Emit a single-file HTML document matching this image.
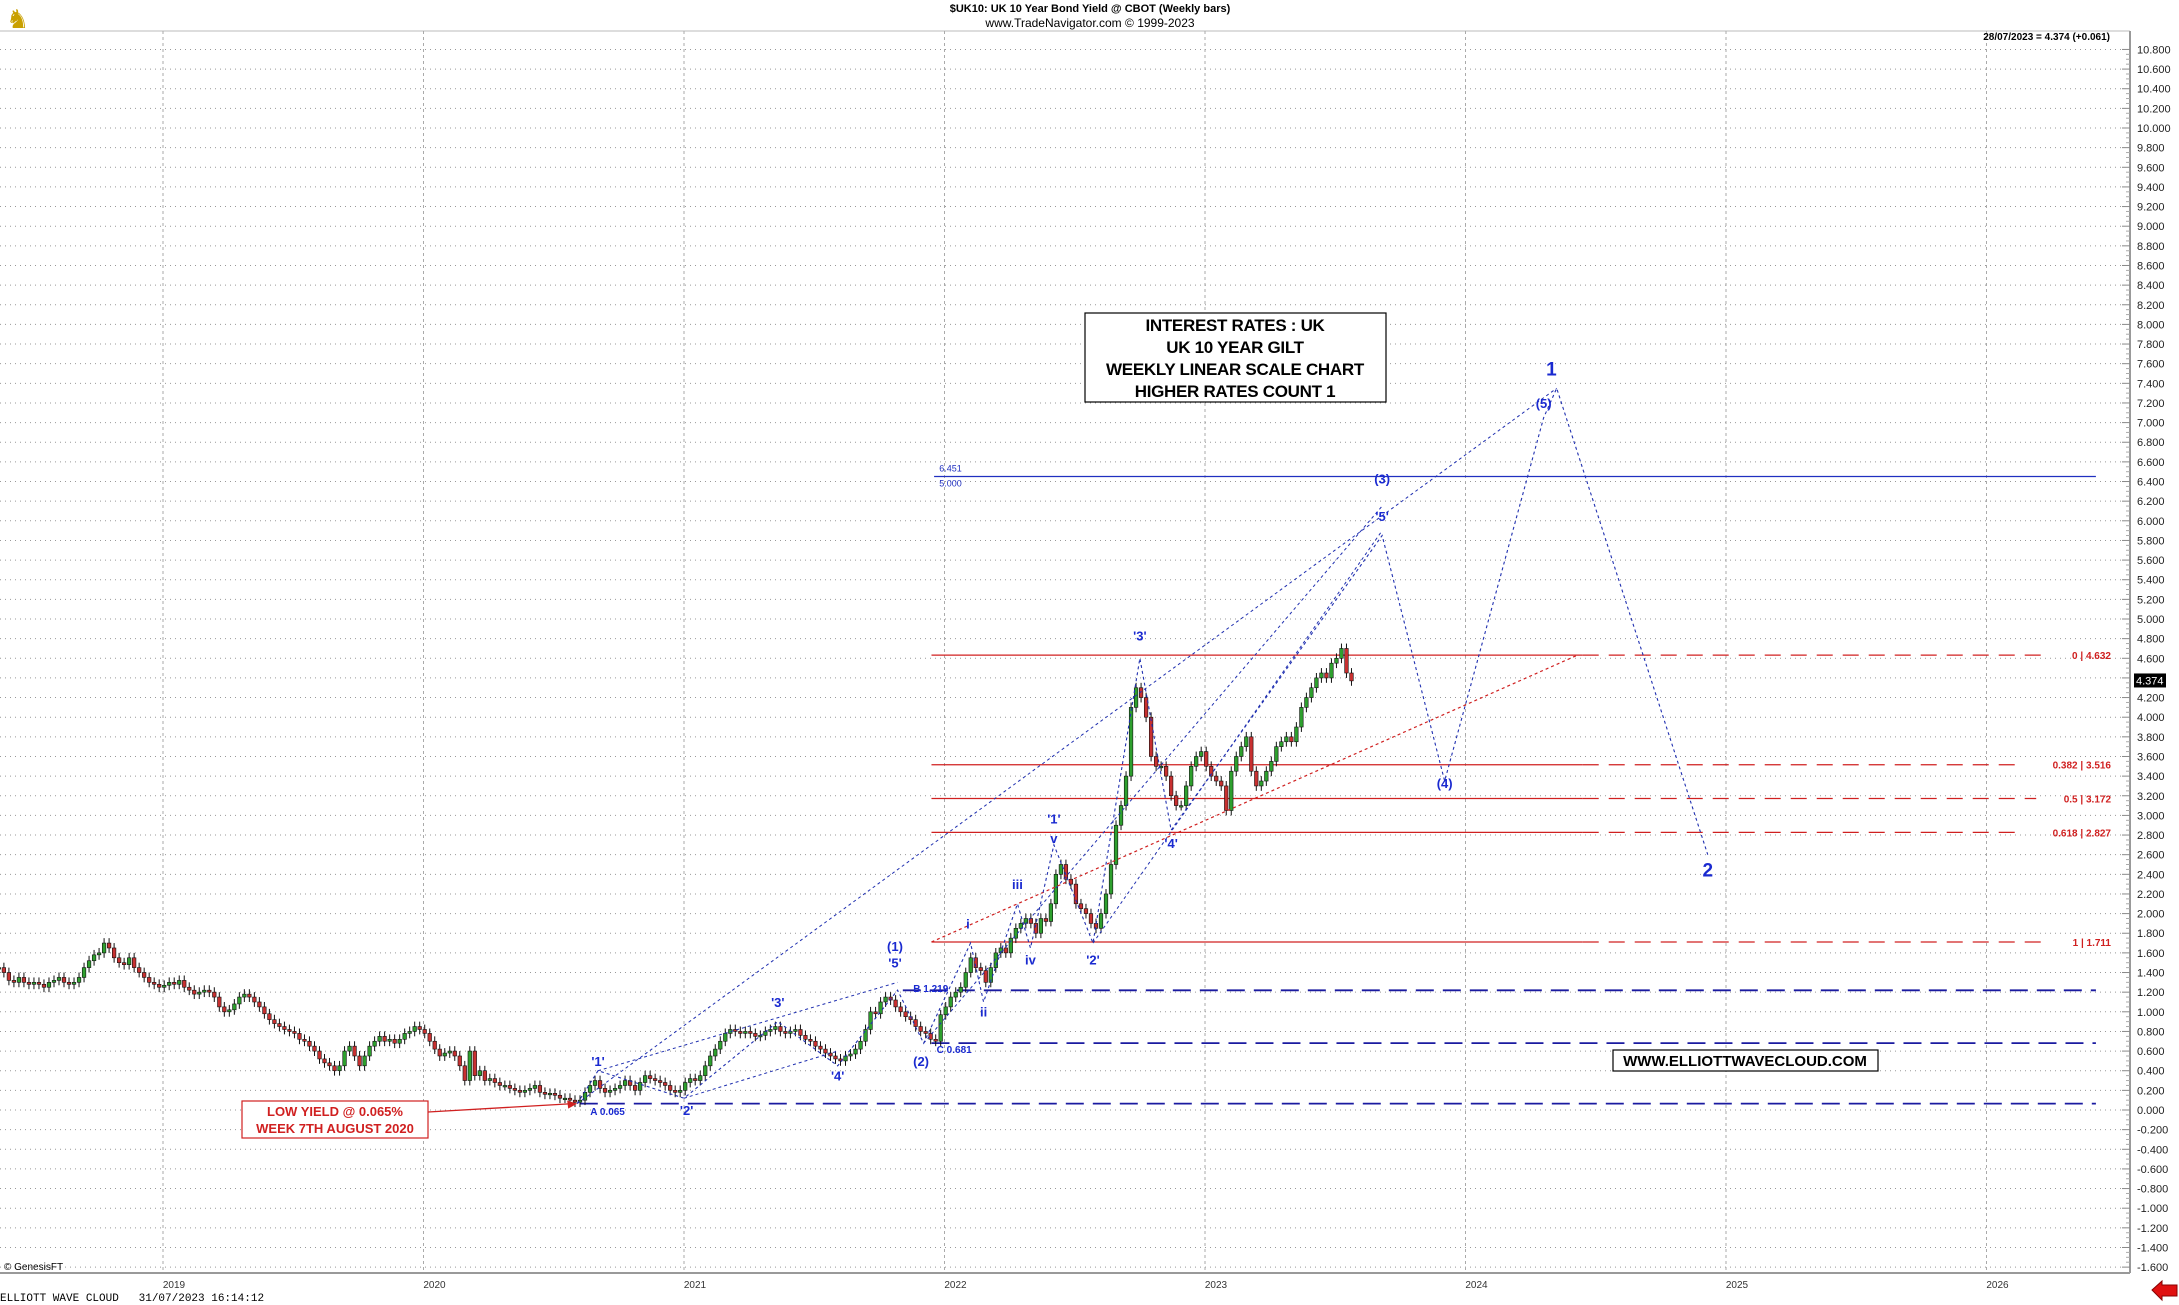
<!DOCTYPE html>
<html><head><meta charset="utf-8"><style>
html,body{margin:0;padding:0;background:#fff;}
svg{display:block;font-family:"Liberation Sans",sans-serif;}
</style></head><body>
<svg id="chart" width="2179" height="1305" viewBox="0 0 2179 1305" xmlns="http://www.w3.org/2000/svg"></svg>
<script>
const closes = [
1.45,1.40,1.32,1.30, 1.35,1.30,1.28,1.30, 1.28,1.25,1.30,1.32, 1.35,1.30,1.28,1.30,1.35,
1.45,1.52,1.58,1.60, 1.70,1.65,1.55,1.50, 1.48,1.55,1.45,1.40, 1.35,1.30,1.28,1.25,1.27,
1.30,1.28,1.32,1.25, 1.22,1.18,1.20,1.22, 1.20,1.15,1.05,1.00,1.02, 1.08,1.15,1.18,1.15,
1.10,1.05,0.98,0.92, 0.88,0.85,0.82,0.80, 0.78,0.72,0.70,0.65,0.60, 0.52,0.48,0.45,0.40,
0.45,0.60,0.65,0.55, 0.45,0.55,0.65,0.70, 0.75,0.70,0.72,0.68,0.72, 0.78,0.80,0.85,0.82,
0.78,0.70,0.62,0.55, 0.58,0.60,0.55,0.45, 0.30,0.60,0.35,0.40,0.30, 0.32,0.28,0.25,0.25,
0.22,0.20,0.18,0.20, 0.22,0.25,0.18,0.16,0.17, 0.15,0.12,0.12,0.10, 0.08,0.10,0.18,0.25,
0.30,0.22,0.18,0.20,0.22, 0.25,0.30,0.25,0.20, 0.28,0.35,0.32,0.30, 0.28,0.25,0.20,0.18,0.20,
0.28,0.32,0.30,0.35, 0.45,0.55,0.62,0.70, 0.78,0.82,0.80,0.78,0.80, 0.78,0.75,0.76,0.80,
0.82,0.85,0.80,0.78, 0.80,0.82,0.76,0.72,0.70, 0.65,0.62,0.58,0.55, 0.52,0.50,0.55,0.57,
0.62,0.70,0.82,1.00,0.98, 1.10,1.15,1.12,1.05, 1.00,0.95,0.92,0.85, 0.80,0.78,0.72,0.70,0.97,
1.05,1.15,1.20,1.25, 1.40,1.55,1.45,1.42, 1.30,1.45,1.60,1.65,1.60, 1.75,1.85,1.90,1.95,
1.90,1.80,1.95,1.92, 2.10,2.40,2.50,2.35,2.30, 2.10,2.05,2.00,1.90, 1.85,2.00,2.20,2.50,
2.90,3.10,3.40,4.10,4.30, 4.20,4.00,3.60,3.50, 3.50,3.40,3.20,3.10, 3.10,3.30,3.50,3.60,3.65,
3.50,3.40,3.35,3.30, 3.05,3.45,3.60,3.70, 3.80,3.45,3.30,3.35,3.45, 3.55,3.70,3.75,3.80,
3.75,3.90,4.10,4.20, 4.30,4.40,4.45,4.40,4.55, 4.60,4.70,4.45,4.37];
const startYear = 2018.37;
const yearTicks = [2019,2020,2021,2022,2023,2024,2025,2026];
const fibLevels = [4.632,3.516,3.172,2.827,1.711];
const fibLabels = ["0 | 4.632","0.382 | 3.516","0.5 | 3.172","0.618 | 2.827","1 | 1.711"];
const blueDashed = [1.219,0.681,0.065];
const blueDashedStart = [2021.84,2021.95,2020.6];
const wavePathT = [2020.59,2020.67,2021.0,2021.36,2021.59,2021.82,2021.92,2022.1,2022.15,2022.28,2022.33,2022.42,2022.57,2022.75,2022.87,2023.68,2023.92,2024.30,2024.35,2024.93];
const wavePathV = [0.065,0.40,0.12,0.90,0.45,1.22,0.68,1.70,1.10,2.10,1.65,2.70,1.70,4.60,2.85,5.85,3.35,7.05,7.35,2.60];
const labelText = ["'1'","A 0.065","'2'","'3'","'4'","(1)","'5'","B 1.219","(2)","C 0.681","i","ii","iii","iv","v","'1'","'2'","'3'","'4'","'5'","(3)","(4)","(5)","1","2"];
const labelT = [2020.67,2020.64,2021.01,2021.36,2021.59,2021.81,2021.81,2021.88,2021.91,2021.97,2022.09,2022.15,2022.28,2022.33,2022.42,2022.42,2022.57,2022.75,2022.87,2023.68,2023.68,2023.92,2024.30,2024.33,2024.93];
const labelV = [0.45,-0.05,-0.05,1.05,0.30,1.62,1.45,1.20,0.45,0.58,1.85,0.95,2.25,1.48,2.72,2.92,1.48,4.78,2.67,6.00,6.38,3.28,7.15,7.48,2.38];

const X0=163, PXY=260.5, Y0=1110, PXV=98.2, AX=2130;
const x = t => X0+(t-2019)*PXY;
const y = v => Y0-v*PXV;
const svg=document.getElementById('chart');
const NS="http://www.w3.org/2000/svg";
function mk(tag,attrs,parent){const e=document.createElementNS(NS,tag);for(const k in attrs)e.setAttribute(k,attrs[k]);(parent||svg).appendChild(e);return e;}
function txt(s,attrs,parent){const e=mk('text',attrs,parent);e.textContent=s;return e;}

const frame=mk('g',{});


mk('line',{x1:0,y1:31,x2:AX,y2:31,stroke:'#ddd','stroke-width':2},frame);
mk('line',{x1:0,y1:1273,x2:AX,y2:1273,stroke:'#999','stroke-width':2},frame);
mk('line',{x1:AX,y1:31,x2:AX,y2:1273,stroke:'#999','stroke-width':2},frame);

const ya=mk('g',{});


for(let i=-8;i<=54;i++){const v=i*0.2;const yy=y(v);
 mk('line',{x1:0,y1:yy,x2:AX-8,y2:yy,stroke:'#999','stroke-width':1,'stroke-dasharray':'1 4'},ya);
 mk('line',{x1:AX-8,y1:yy,x2:AX,y2:yy,stroke:'#888'},ya);
 const t=txt(v.toFixed(3).replace('-0.000','0.000'),{x:AX+7,y:yy+4,'font-size':11,fill:'#222'},ya);
 
 
 for(let m=1;m<4;m++){const ym=yy-m*0.05*PXV; if(i<54) mk('line',{x1:AX-4,y1:ym,x2:AX,y2:ym,stroke:'#aaa'},ya);}
}
const xa=mk('g',{});


yearTicks.forEach(yr=>{const xx=x(yr);
 mk('line',{x1:xx,y1:31,x2:xx,y2:1273,stroke:'#aaa','stroke-dasharray':'3 3'},xa);
 const t=txt(String(yr),{x:xx+11,y:1288,'font-size':10,'text-anchor':'middle',fill:'#333'},xa);
 
 
});

const h1=txt('$UK10:  UK 10 Year Bond Yield @ CBOT  (Weekly bars)',{x:1090,y:12,'font-size':11,'font-weight':'bold','text-anchor':'middle'});


const h2=txt('www.TradeNavigator.com © 1999-2023',{x:1090,y:27,'font-size':12,'text-anchor':'middle'});


const lastInfo=txt('28/07/2023 = 4.374 (+0.061)',{x:2110,y:40,'font-size':10,'font-weight':'bold','text-anchor':'end'});


const logo=txt('♞',{x:6,y:28,'font-size':26,fill:'#c9a000'});



fibLevels.forEach((v,i)=>{const g=mk('g',{});
 
 
 mk('line',{x1:x(2021.95),y1:y(v),x2:x(2024.45),y2:y(v),stroke:'#d02020','stroke-width':1.3},g);
 mk('line',{x1:x(2024.45),y1:y(v),x2:2100-fibLabels[i].length*5.8,y2:y(v),stroke:'#d02020','stroke-width':1.3,'stroke-dasharray':'16 10'},g);
 txt(fibLabels[i],{x:2111,y:y(v)+4,'font-size':10,'font-weight':'bold',fill:'#d02020','text-anchor':'end'},g);
});
const bl=mk('g',{});


mk('line',{x1:x(2021.96),y1:y(6.451),x2:x(2026.42),y2:y(6.451),stroke:'#2030c0','stroke-width':1.3},bl);
txt('6.451',{x:x(2021.98),y:y(6.451)-5,'font-size':9,fill:'#2030c0'},bl);
txt('5.000',{x:x(2021.98),y:y(6.451)+10,'font-size':9,fill:'#2030c0'},bl);
blueDashed.forEach((v,i)=>{const l=mk('line',{x1:x(blueDashedStart[i]),y1:y(v),x2:x(2026.42),y2:y(v),stroke:'#1a1aa0','stroke-width':1.8,'stroke-dasharray':'18 9'});
 
 
});

const cg=mk('g',{});


closes.forEach((c,i)=>{const o=i?closes[i-1]:c;const xx=x(startYear+i/52);
 const hi=Math.max(o,c)+0.05,lo=Math.min(o,c)-0.05;const up=c>=o;
 const g=mk('g',{},cg);
 
 
 mk('line',{x1:xx,y1:y(hi),x2:xx,y2:y(lo),stroke:'#111','stroke-width':1},g);
 const top=y(Math.max(o,c)),bh=Math.max(1.5,Math.abs(y(o)-y(c)));
 mk('rect',{x:xx-1.8,y:top,width:3.6,height:bh,fill:up?'#2ea02e':'#c83030',stroke:'#111','stroke-width':0.6},g);
});

const chan=[[2020.59,0.065,2024.35,7.35],[2021.92,0.68,2023.68,6.15],[2022.57,1.70,2023.68,5.90],[2020.67,0.40,2021.82,1.30],[2021.0,0.12,2021.59,0.60]];
chan.forEach(c=>{const l=mk('line',{x1:x(c[0]),y1:y(c[1]),x2:x(c[2]),y2:y(c[3]),stroke:'#2030b0','stroke-width':1,'stroke-dasharray':'3 3'});
 
 
});
const rl=mk('line',{x1:x(2021.95),y1:y(1.711),x2:x(2024.43),y2:y(4.632),stroke:'#d02020','stroke-width':1.2,'stroke-dasharray':'3 3'});


const wp=mk('polyline',{points:wavePathT.map((t,i)=>x(t)+','+y(wavePathV[i])).join(' '),fill:'none',stroke:'#2030b0','stroke-width':1.1,'stroke-dasharray':'3 3'});



labelText.forEach((s,i)=>{const big=(s==='1'||s==='2');const small=s.indexOf('.')>0;
 const t=txt(s,{x:x(labelT[i]),y:y(labelV[i]),'font-size':big?19:(small?10:13),'font-weight':'bold',fill:'#1a2ad0','text-anchor':small?'start':'middle'});
 
 
});

const tb=mk('g',{});


mk('rect',{x:1085,y:313,width:301,height:89,fill:'#fff',stroke:'#000','stroke-width':1.2},tb);
['INTEREST RATES : UK','UK 10 YEAR GILT','WEEKLY LINEAR SCALE CHART','HIGHER RATES COUNT 1'].forEach((s,i)=>
 txt(s,{x:1235,y:331+i*22,'font-size':17,'font-weight':'bold','text-anchor':'middle','letter-spacing':'-0.3'},tb));
const lb=mk('g',{});


mk('rect',{x:242,y:1101,width:186,height:37,fill:'#fff',stroke:'#d02020','stroke-width':1.2},lb);
txt('LOW YIELD @ 0.065%',{x:335,y:1116,'font-size':13,'font-weight':'bold',fill:'#d02020','text-anchor':'middle'},lb);
txt('WEEK 7TH AUGUST 2020',{x:335,y:1133,'font-size':13,'font-weight':'bold',fill:'#d02020','text-anchor':'middle'},lb);
mk('line',{x1:428,y1:1112,x2:x(2020.59)-4,y2:y(0.065),stroke:'#d02020','stroke-width':1.3},lb);
mk('polygon',{points:`${x(2020.59)},${y(0.065)} ${x(2020.59)-10},${y(0.065)-3} ${x(2020.59)-9},${y(0.065)+5}`,fill:'#d02020'},lb);
const wb=mk('g',{});


mk('rect',{x:1613,y:1050,width:265,height:21,fill:'#fff',stroke:'#000','stroke-width':1.2},wb);
txt('WWW.ELLIOTTWAVECLOUD.COM',{x:1745,y:1066,'font-size':15,'font-weight':'bold','text-anchor':'middle'},wb);
const pt=mk('g',{});


mk('rect',{x:2134,y:y(4.374)-7,width:32,height:14,fill:'#000'},pt);
txt('4.374',{x:2136,y:y(4.374)+4,'font-size':11,fill:'#fff'},pt);
const gf=txt('© GenesisFT',{x:4,y:1270,'font-size':10});


const ft=txt('ELLIOTT WAVE CLOUD   31/07/2023 16:14:12',{x:0,y:1301,'font-size':11,'font-family':'Liberation Mono, monospace'});


ft.setAttribute('style','white-space:pre');
const ar=mk('polygon',{points:'2152,1290 2162,1281 2162,1285 2177,1285 2177,1296 2162,1296 2162,1300',fill:'#e01010',stroke:'#800'});


</script>
</body></html>
